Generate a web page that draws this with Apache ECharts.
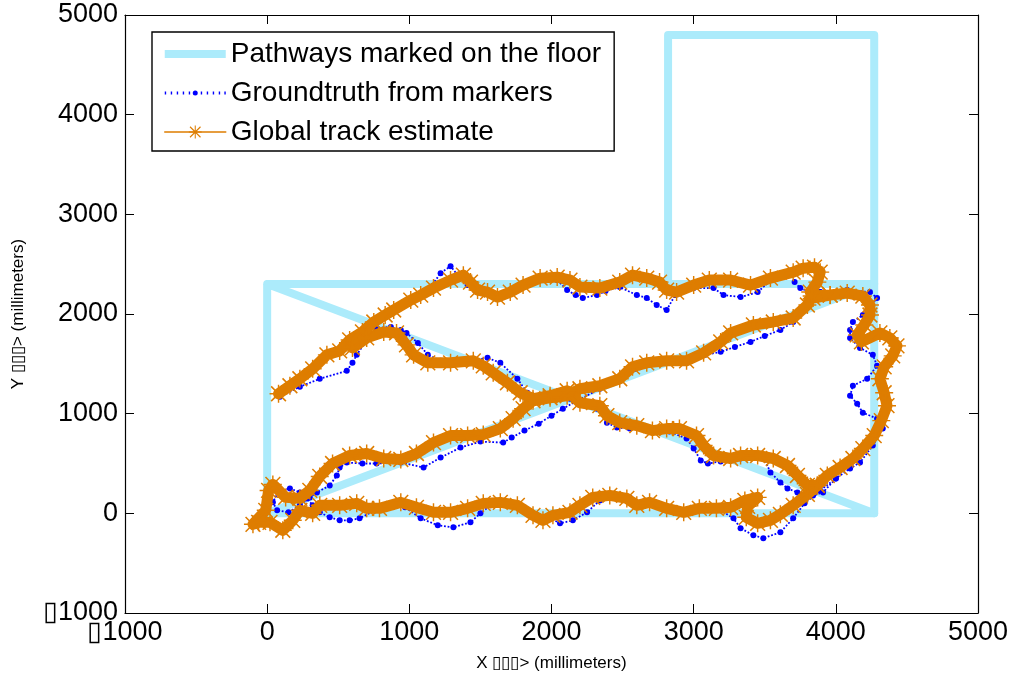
<!DOCTYPE html>
<html><head><meta charset="utf-8">
<script src="https://cdn.jsdelivr.net/npm/echarts@6/dist/echarts.min.js"></script>
<style>html,body{margin:0;padding:0;background:#fff}#c{width:1021px;height:677px}</style>
</head><body><div id="c"></div>
<script>
// ---- data (millimeters) ----
const xTicks = [-1000, 0, 1000, 2000, 3000, 4000, 5000];
const yTicks = [-1000, 0, 1000, 2000, 3000, 4000, 5000];
const seriesNames = ['Pathways marked on the floor', 'Groundtruth from markers', 'Global track estimate'];
const pathwayStroke1 = [[0,0],[0,2300],[2820,2300],[4270,2300],[0,0],[4270,0],[0,2300]];
const pathwayStroke2 = [[2820,2300],[2820,4800],[4270,4800],[4270,2300],[4270,0]];
const groundtruthMain = [[1010,2120],[1110,2190],[1220,2410],[1290,2480],[1340,2390],[1410,2290],[1460,2240],[1520,2210],[1600,2170],[1710,2210],[1800,2280],[1920,2340],[2040,2340],[2110,2240],[2170,2190],[2220,2160],[2320,2190],[2380,2230],[2480,2270],[2600,2190],[2670,2160],[2740,2090],[2810,2040],[2870,2190],[3000,2260],[3140,2260],[3210,2190],[3330,2170],[3450,2220],[3560,2360],[3680,2420],[3710,2320],[3750,2260],[3820,2220],[3890,2220],[4080,2240],[4240,2220],[4290,2160],[4190,1990],[4120,1920],[4100,1840],[4100,1760],[4170,1660],[4260,1590],[4290,1480],[4220,1350],[4120,1280],[4100,1180],[4150,1100],[4190,1010],[4290,950],[4330,850],[4260,680],[4170,510],[4100,450],[4000,350],[3890,230],[3780,100],[3700,-50],[3610,-190],[3490,-250],[3420,-220],[3330,-150],[3280,-50],[3190,30],[3070,70],[2980,30],[2870,30],[2760,80],[2660,100],[2550,160],[2430,180],[2340,130],[2250,10],[2150,-70],[2060,-100],[1990,-50],[1890,-10],[1760,80],[1640,110],[1570,80],[1500,0],[1430,-90],[1310,-140],[1200,-120],[1080,-50],[970,60],[870,80],[760,30],[650,-50],[580,-70],[510,-70],[440,-40],[370,10],[320,80],[280,150],[230,210],[160,250],[80,220],[40,110],[70,30],[150,10],[230,80],[300,160],[350,210],[440,280],[490,380],[510,460],[560,510],[670,500],[770,500],[940,510],[1100,460],[1220,560],[1360,660],[1500,720],[1660,710],[1720,760],[1810,830],[1910,900],[2000,980],[2080,1050],[2180,1130],[2340,1250],[2480,1330],[2590,1450],[2710,1500],[2850,1510],[2980,1550],[3080,1590],[3190,1620],[3290,1670],[3400,1720],[3500,1780],[3610,1840],[3700,1920],[3780,2040],[3830,2160],[3890,2220]];
const groundtruthCross = [[90,1170],[230,1270],[370,1350],[560,1430],[600,1510],[630,1590],[700,1740],[770,1860],[870,1870],[940,1840],[980,1810],[1060,1710],[1130,1590],[1220,1530],[1320,1510],[1430,1530],[1550,1560],[1640,1510],[1760,1350],[1830,1210],[1920,1150],[2030,1170],[2130,1150],[2240,1100],[2320,1050],[2390,910],[2460,860],[2550,850],[2690,830],[2830,820],[2950,750],[3000,650],[3050,530],[3100,500],[3190,520],[3330,550],[3490,570],[3540,410],[3610,310],[3660,250],[3730,210],[3840,180],[3910,210],[4000,350]];
const estimateMain = [[80,1200],[160,1280],[230,1350],[320,1450],[420,1590],[510,1630],[580,1740],[670,1820],[750,1920],[830,1990],[890,2040],[1010,2140],[1080,2190],[1170,2260],[1290,2340],[1380,2390],[1430,2320],[1480,2240],[1550,2220],[1620,2170],[1710,2220],[1800,2290],[1920,2360],[2040,2370],[2130,2340],[2200,2270],[2340,2260],[2480,2320],[2570,2390],[2670,2360],[2760,2320],[2810,2240],[2880,2220],[3000,2290],[3110,2340],[3260,2340],[3400,2290],[3540,2360],[3700,2420],[3770,2460],[3850,2470],[3890,2420],[3870,2320],[3820,2220],[3840,2160],[3960,2190],[4080,2210],[4190,2180],[4240,2090],[4240,1990],[4200,1890],[4150,1790],[4180,1720],[4310,1810],[4380,1760],[4430,1680],[4400,1580],[4340,1470],[4310,1350],[4340,1210],[4360,1080],[4320,930],[4270,780],[4190,650],[4120,550],[4030,460],[3940,380],[3870,280],[3800,190],[3700,80],[3610,-10],[3540,-70],[3450,-100],[3370,-40],[3380,70],[3450,160],[3360,130],[3260,60],[3160,50],[3040,50],[2930,10],[2810,50],[2690,110],[2600,80],[2530,150],[2410,180],[2290,160],[2200,80],[2130,10],[2010,-20],[1940,-70],[1870,-20],[1760,80],[1640,110],[1520,100],[1410,50],[1290,10],[1170,10],[1050,60],[940,110],[790,50],[700,50],[630,100],[510,80],[370,80],[320,0],[230,30],[180,-70],[110,-170],[20,-90],[-60,-90],[-100,-110],[-10,30],[10,230],[40,290],[130,160],[230,150],[300,230],[370,370],[460,500],[580,580],[700,600],[820,550],[940,540],[1050,600],[1170,710],[1290,780],[1410,780],[1520,790],[1640,850],[1730,950],[1800,1050],[1870,1130],[1990,1160],[2110,1180],[2200,1250],[2340,1280],[2480,1350],[2570,1470],[2670,1510],[2810,1530],[2950,1530],[3070,1610],[3190,1720],[3260,1810],[3420,1890],[3560,1920],[3700,1960],[3800,2090],[3830,2180],[3960,2190]];
const estimateCross = [[600,1660],[700,1760],[820,1820],[910,1810],[980,1690],[1030,1590],[1130,1510],[1290,1510],[1450,1530],[1520,1480],[1590,1410],[1690,1310],[1780,1210],[1870,1150],[1990,1180],[2110,1230],[2200,1110],[2340,1080],[2390,980],[2480,910],[2600,880],[2710,830],[2810,850],[2900,850],[3020,780],[3070,680],[3140,580],[3260,550],[3330,580],[3450,580],[3560,550],[3660,480],[3730,380],[3800,280],[3870,280]];

// ---- styling ----
const FONT = 'Liberation Sans, Arial, Helvetica, sans-serif';
const PATH_COLOR = '#acebfb';
const GT_COLOR = '#0000ff';
const EST_COLOR = '#de7d00';
const ASTERISK = 'path://M9.2,0 L10.8,0 L10.8,20 L9.2,20 Z M0,9.2 L20,9.2 L20,10.8 L0,10.8 Z M2.4,1.2 L18.8,17.6 L17.6,18.8 L1.2,2.4 Z M17.6,1.2 L18.8,2.4 L2.4,18.8 L1.2,17.6 Z';
const PATH_ICON = 'path://M0,0 L61,0 L61,8 L0,8 Z';
const GT_ICON = 'path://M0,6.5 h1.4 v3 h-1.4 Z M6,6.5 h1.4 v3 h-1.4 Z M12,6.5 h1.4 v3 h-1.4 Z M18,6.5 h1.4 v3 h-1.4 Z M24,6.5 h1.4 v3 h-1.4 Z M28,8 a2.5,2.5 0 1,0 5,0 a2.5,2.5 0 1,0 -5,0 Z M36,6.5 h1.4 v3 h-1.4 Z M42,6.5 h1.4 v3 h-1.4 Z M48,6.5 h1.4 v3 h-1.4 Z M54,6.5 h1.4 v3 h-1.4 Z M59.6,6.5 h1.4 v3 h-1.4 Z';
const fmt = v => String(v).replace('-', '\u25AF');

function pathwaySeries(d){return {name:seriesNames[0],type:'line',data:d,z:1,symbol:'none',silent:true,
  lineStyle:{color:PATH_COLOR,width:8,cap:'round',join:'round'},itemStyle:{color:PATH_COLOR}};}
function gtSeries(d){return {name:seriesNames[1],type:'line',data:d,z:2,symbol:'circle',symbolSize:6,
  lineStyle:{color:GT_COLOR,width:1.8,type:'dotted'},itemStyle:{color:GT_COLOR}};}
function estSeries(d){return {name:seriesNames[2],type:'line',data:d,z:3,symbol:ASTERISK,symbolSize:18,
  lineStyle:{color:EST_COLOR,width:11,cap:'round',join:'round'},itemStyle:{color:EST_COLOR}};}

const axisCommon = {type:'value',min:xTicks[0],max:xTicks[xTicks.length-1],interval:1000,
  splitLine:{show:false},axisLine:{show:true,onZero:false,lineStyle:{color:'#000',width:1.2}},
  axisTick:{show:true,inside:true,length:9,lineStyle:{color:'#000',width:1}}};

const option = {
  animation:false,
  backgroundColor:'#fff',
  grid:{left:125,right:43,top:15,bottom:64,containLabel:false,outerBoundsMode:'none'},
  xAxis:[
    Object.assign({},axisCommon,{position:'bottom',name:'X \u25AF\u25AF\u25AF> (millimeters)',nameLocation:'middle',nameGap:42,
      nameTextStyle:{fontSize:17,fontFamily:FONT,color:'#000'},
      axisLabel:{fontSize:27,fontFamily:FONT,color:'#000',margin:6,formatter:fmt}}),
    Object.assign({},axisCommon,{position:'top',axisLabel:{show:false}})
  ],
  yAxis:[
    Object.assign({},axisCommon,{min:yTicks[0],max:yTicks[yTicks.length-1],position:'left',name:'Y \u25AF\u25AF\u25AF> (millimeters)',nameLocation:'middle',nameGap:98,
      nameTextStyle:{fontSize:17,fontFamily:FONT,color:'#000'},
      axisLabel:{fontSize:27,fontFamily:FONT,color:'#000',margin:7,formatter:fmt}}),
    Object.assign({},axisCommon,{min:yTicks[0],max:yTicks[yTicks.length-1],position:'right',axisLabel:{show:false}})
  ],
  legend:{orient:'vertical',left:152,top:32,padding:[8,13,5,12],itemGap:11,itemWidth:61,itemHeight:16,
    borderColor:'#000',borderWidth:1.4,backgroundColor:'#fff',symbolKeepAspect:true,
    textStyle:{fontSize:28,fontFamily:FONT,color:'#000'},
    data:[
      {name:seriesNames[0],icon:PATH_ICON,itemStyle:{color:PATH_COLOR}},
      {name:seriesNames[1],icon:GT_ICON,itemStyle:{color:GT_COLOR}},
      {name:seriesNames[2],lineStyle:{width:1.5},itemStyle:{color:EST_COLOR}}
    ]},
  series:[
    pathwaySeries(pathwayStroke1), pathwaySeries(pathwayStroke2),
    gtSeries(groundtruthMain), gtSeries(groundtruthCross),
    estSeries(estimateMain), estSeries(estimateCross)
  ]
};
const chart = echarts.init(document.getElementById('c'), null, {renderer:'canvas'});
chart.setOption(option);
</script></body></html>
